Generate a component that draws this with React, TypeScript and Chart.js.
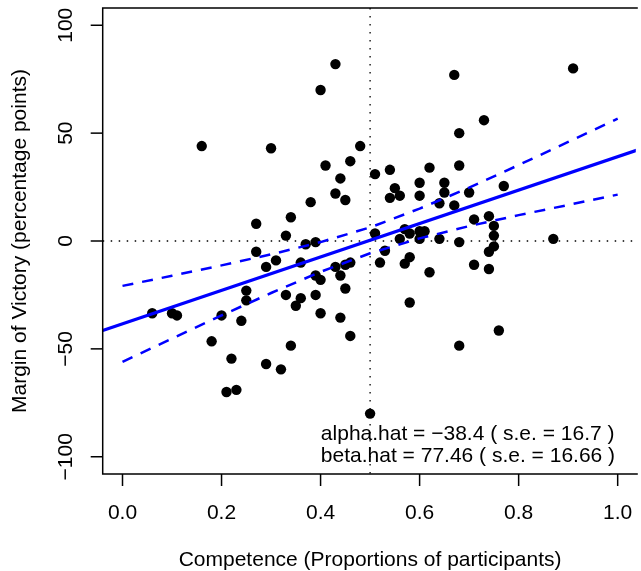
import React, { useEffect, useRef } from "react";
import { Chart, registerables } from "chart.js";

Chart.register(...registerables);

// ---- data ----
const competence = [
  0.16, 0.30, 0.40, 0.43, 0.48, 0.41, 0.46, 0.44, 0.43, 0.45,
  0.38, 0.34, 0.27, 0.33, 0.37, 0.39, 0.27, 0.31, 0.29, 0.36,
  0.43, 0.45, 0.46, 0.39, 0.40, 0.44, 0.45, 0.25, 0.25, 0.33,
  0.36, 0.35, 0.39, 0.40, 0.44, 0.46, 0.06, 0.10, 0.11, 0.20,
  0.24, 0.18, 0.22, 0.29, 0.32, 0.34, 0.21, 0.23, 0.50, 0.67,
  0.91, 0.73, 0.68, 0.68, 0.51, 0.54, 0.62, 0.55, 0.54, 0.56,
  0.60, 0.60, 0.65, 0.65, 0.70, 0.77, 0.64, 0.67, 0.51, 0.57,
  0.58, 0.60, 0.61, 0.56, 0.60, 0.64, 0.68, 0.71, 0.74, 0.75,
  0.75, 0.75, 0.74, 0.87, 0.53, 0.58, 0.52, 0.57, 0.62, 0.58,
  0.71, 0.74, 0.76, 0.68,
];
const marginOfVictory = [
  44, 43, 70, 82, 44, 35, 37, 29, 22, 19,
  18, 11, 8, 2.5, -1.5, -0.5, -5, -9, -12, -10,
  -12, -11, -10, -16, -18, -16, -22, -23, -27.5, -25,
  -26.5, -30, -25, -33.5, -35.5, -44, -33.5, -33.5, -34.5, -34.5,
  -37, -46.5, -54.5, -57, -59.5, -48.5, -70, -69, -80, 77,
  80, 56, 50, 35, 31, 33, 34, 24.5, 20, 21,
  27, 21, 27, 22.5, 22.5, 25.5, 17.5, 16.5, 3.5, 5.5,
  3.5, 4.5, 4.5, 1, 1, 1, -0.5, 10, 11.5, 7,
  2.5, -2.5, -5, 1, -4.5, -7.5, -10, -10.5, -14.5, -28.5,
  -11, -13, -41.5, -48.5,
];

const alphaHat = -38.4;
const betaHat = 77.46;

const bandX = [0, 0.1, 0.2, 0.3, 0.4, 0.5, 0.6, 0.7, 0.8, 0.9, 1.0];
const bandUpper = [-20.8, -16.1, -11.3, -6.2, -0.5, 6.3, 15.0, 24.7, 35.2, 45.9, 56.7];
const bandLower = [-56.0, -45.2, -34.5, -24.1, -14.3, -5.7, 1.2, 6.9, 12.0, 16.7, 21.5];

const xTicks = [0, 0.2, 0.4, 0.6, 0.8, 1.0];
const xTickLabels = ["0.0", "0.2", "0.4", "0.6", "0.8", "1.0"];
const yTicks = [-100, -50, 0, 50, 100];
const yTickLabels = ["\u2212100", "\u221250", "0", "50", "100"];

const xTitle = "Competence (Proportions of participants)";
const yTitle = "Margin of Victory (percentage points)";
const annotationLines = [
  "alpha.hat = \u221238.4 ( s.e. = 16.7 )",
  "beta.hat = 77.46 ( s.e. = 16.66 )",
];

const X_MIN = -0.04;
const X_MAX = 1.0366;
const Y_MIN = -108;
const Y_MAX = 108;
const FONT = '21px "Liberation Sans", Arial, Helvetica, sans-serif';

const rAxesPlugin = {
  id: "rAxes",
  beforeDatasetsDraw(chart: any) {
    const { ctx, chartArea: a, scales } = chart;
    const xs = scales.x;
    const ys = scales.y;
    ctx.save();
    ctx.strokeStyle = "#000";
    ctx.lineWidth = 1.3;
    ctx.setLineDash([1.5, 6.5]);
    const y0 = ys.getPixelForValue(0);
    ctx.beginPath();
    ctx.moveTo(a.left, y0);
    ctx.lineTo(a.right, y0);
    ctx.stroke();
    const xh = xs.getPixelForValue(0.5);
    ctx.beginPath();
    ctx.moveTo(xh, a.top);
    ctx.lineTo(xh, a.bottom);
    ctx.stroke();
    ctx.restore();
  },
  afterDraw(chart: any) {
    const { ctx, chartArea: a, scales } = chart;
    const xs = scales.x;
    const ys = scales.y;
    ctx.save();
    ctx.strokeStyle = "#000";
    ctx.fillStyle = "#000";
    ctx.lineWidth = 1.5;
    ctx.setLineDash([]);
    // box (right side falls outside the picture)
    ctx.beginPath();
    ctx.moveTo(a.right + 2, a.top);
    ctx.lineTo(a.left, a.top);
    ctx.lineTo(a.left, a.bottom);
    ctx.lineTo(a.right + 2, a.bottom);
    ctx.stroke();

    ctx.font = FONT;
    // x ticks
    ctx.textAlign = "center";
    ctx.textBaseline = "alphabetic";
    xTicks.forEach((v, i) => {
      const px = xs.getPixelForValue(v);
      ctx.beginPath();
      ctx.moveTo(px, a.bottom);
      ctx.lineTo(px, a.bottom + 12);
      ctx.stroke();
      ctx.fillText(xTickLabels[i], px, a.bottom + 44.5);
    });
    // y ticks
    yTicks.forEach((v, i) => {
      const py = ys.getPixelForValue(v);
      ctx.beginPath();
      ctx.moveTo(a.left, py);
      ctx.lineTo(a.left - 12, py);
      ctx.stroke();
      ctx.save();
      ctx.translate(a.left - 31, py);
      ctx.rotate(-Math.PI / 2);
      ctx.fillText(yTickLabels[i], 0, 0);
      ctx.restore();
    });
    // titles
    const xCenter = xs.getPixelForValue((X_MIN + 1.04) / 2);
    ctx.fillText(xTitle, xCenter, a.bottom + 92);
    ctx.save();
    ctx.translate(26, (a.top + a.bottom) / 2);
    ctx.rotate(-Math.PI / 2);
    ctx.fillText(yTitle, 0, 0);
    ctx.restore();

    // annotation
    ctx.textAlign = "left";
    const ax = xs.getPixelForValue(0.4006);
    ctx.fillText(annotationLines[0], ax, ys.getPixelForValue(-92.2));
    ctx.fillText(annotationLines[1], ax, ys.getPixelForValue(-102.6));
    ctx.restore();
  },
};

export default function App() {
  const ref = useRef<HTMLCanvasElement | null>(null);
  useEffect(() => {
    if (!ref.current) return;
    const points = competence.map((c, i) => ({ x: c, y: marginOfVictory[i] }));
    const fitLine = [X_MIN, 1.04].map((x) => ({ x, y: alphaHat + betaHat * x }));
    const upper = bandX.map((x, i) => ({ x, y: bandUpper[i] }));
    const lower = bandX.map((x, i) => ({ x, y: bandLower[i] }));
    const chart = new Chart(ref.current, {
      type: "scatter",
      data: {
        datasets: [
          {
            type: "line",
            data: fitLine,
            borderColor: "#0000FF",
            borderWidth: 3.2,
            pointRadius: 0,
            fill: false,
          } as any,
          {
            type: "line",
            data: upper,
            borderColor: "#0000FF",
            borderWidth: 2.5,
            borderDash: [11, 9],
            pointRadius: 0,
            fill: false,
          } as any,
          {
            type: "line",
            data: lower,
            borderColor: "#0000FF",
            borderWidth: 2.5,
            borderDash: [11, 9],
            pointRadius: 0,
            fill: false,
          } as any,
          {
            data: points,
            backgroundColor: "#000",
            borderWidth: 0,
            pointRadius: 5.2,
            pointHoverRadius: 5.2,
          },
        ],
      },
      options: {
        animation: false,
        responsive: false,
        devicePixelRatio: 1,
        events: [],
        layout: { padding: { left: 102.7, top: 8, right: 0, bottom: 97 } },
        plugins: { legend: { display: false }, tooltip: { enabled: false } },
        scales: {
          x: { type: "linear", display: false, min: X_MIN, max: X_MAX },
          y: { type: "linear", display: false, min: Y_MIN, max: Y_MAX },
        },
      },
      plugins: [rAxesPlugin],
    });
    return () => chart.destroy();
  }, []);
  return (
    <div style={{ position: "fixed", left: 0, top: 0, width: 641, height: 571, background: "#fff" }}>
      <canvas ref={ref} width={641} height={571} style={{ display: "block" }} />
    </div>
  );
}
